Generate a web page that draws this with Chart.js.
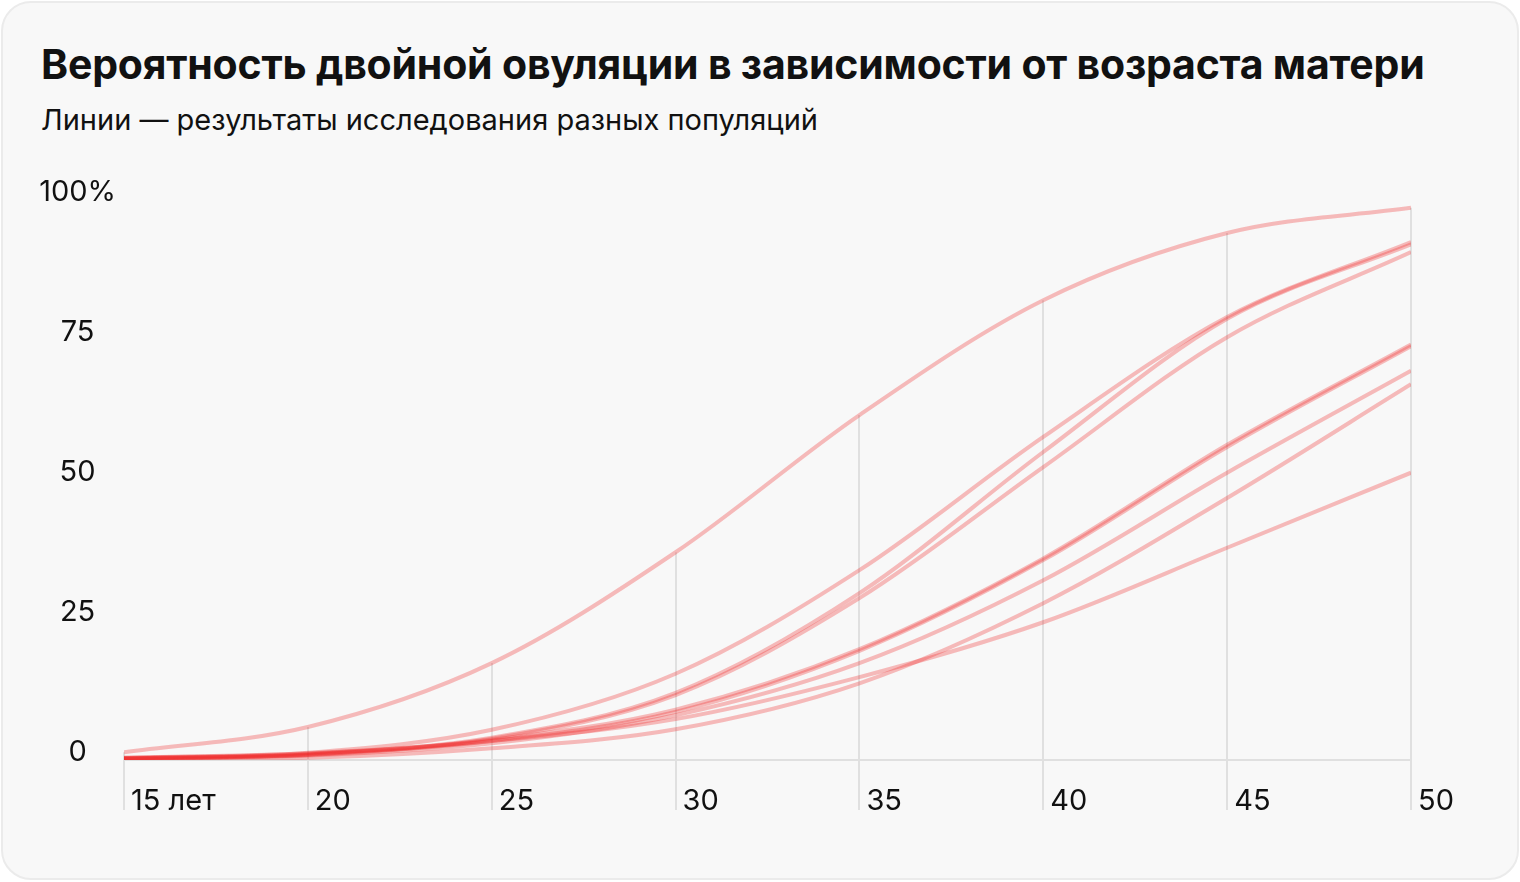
<!DOCTYPE html>
<html lang="ru">
<head>
<meta charset="utf-8">
<title>Вероятность двойной овуляции</title>
<script src="https://cdn.jsdelivr.net/npm/chart.js@4/dist/chart.umd.min.js"></script>
<style>
  html, body { margin: 0; padding: 0; background: #fff; }
  body { width: 1520px; height: 882px; position: relative; overflow: hidden; font-family: "Inter", "Roboto", sans-serif; }
  .card {
    position: absolute; left: 1px; top: 1px; width: 1518px; height: 879px;
    box-sizing: border-box; border: 2px solid #ebebeb; border-radius: 30px; background: #f8f8f8;
  }
  h1 {
    position: absolute; left: 41px; top: 39px; margin: 0;
    font-size: 41px; font-weight: 700; color: #111; white-space: nowrap; letter-spacing: -0.2px;
  }
  .sub {
    position: absolute; left: 41px; top: 102px; margin: 0;
    font-size: 29px; font-weight: 400; color: #111; white-space: nowrap;
  }
  #chart-wrap { position: absolute; left: 0; top: 0; width: 1520px; height: 882px; }
</style>
</head>
<body>
<div class="card"></div>
<h1>Вероятность двойной овуляции в зависимости от возраста матери</h1>
<p class="sub">Линии — результаты исследования разных популяций</p>
<div id="chart-wrap"><canvas id="chart"></canvas></div>
<script>
// ages (x)
const ages = [15, 20, 25, 30, 35, 40, 45, 50];
// one array per population, % probability
const popA = [1.4, 5.9, 17.3, 37.1, 61.6, 82.1, 94.1, 98.6];
const popB = [0.4, 1.3, 5.4, 15.4, 33.9, 57.7, 79.1, 92.5];
const popC = [0.3, 1.1, 4.0, 12.0, 29.8, 55.0, 78.8, 92.1];
const popD = [0.3, 1.0, 3.8, 11.6, 28.9, 52.3, 75.5, 90.7];
const popE = [0.2, 0.9, 3.4, 8.6, 19.5, 35.7, 55.9, 73.9];
const popF = [0.3, 1.0, 3.6, 9.0, 19.8, 36.0, 56.3, 74.2];
const popG = [0.2, 0.8, 3.0, 8.0, 17.3, 32.1, 51.3, 69.5];
const popH = [0.1, 0.4, 2.1, 5.5, 13.7, 28.0, 46.8, 67.1];
const popI = [0.4, 1.2, 3.4, 7.3, 14.8, 24.6, 37.9, 51.3];
const series = [popA, popB, popC, popD, popE, popF, popG, popH, popI];
// tick labels
const xTickLabels = { 15: "15 лет" };
const yTickLabels = { 100: "100%" };

const lineColor = "rgba(240, 40, 40, 0.3)";
const gridColor = "#e0e0e0";

//build datasets
const datasets = series.map((s, i) => ({
  label: "pop" + (i + 1),
  data: ages.map((a, j) => ({ x: a, y: s[j] })),
  borderColor: lineColor,
  borderWidth: 4,
  pointRadius: 0,
  fill: false,
  cubicInterpolationMode: "monotone",
}));

//drop lines from the top curve to below the axis + zero line
const dropLines = {
  id: "dropLines",
  beforeDatasetsDraw(chart) {
    const { ctx, scales: { x, y } } = chart;
    const zero = y.getPixelForValue(0);
    ctx.save();
    ctx.strokeStyle = gridColor;
    ctx.lineWidth = 2;
    ctx.beginPath();
    ctx.moveTo(x.getPixelForValue(ages[0]), zero);
    ctx.lineTo(x.getPixelForValue(ages[ages.length - 1]), zero);
    ctx.stroke();
    ages.forEach((a, i) => {
      const px = Math.round(x.getPixelForValue(a));
      ctx.beginPath();
      ctx.moveTo(px, y.getPixelForValue(popA[i]));
      ctx.lineTo(px, zero + 50);
      ctx.stroke();
    });
    ctx.restore();
  },
};

const chart = new Chart(document.getElementById("chart"), {
  type: "line",
  data: { datasets },
  plugins: [dropLines],
  options: {
    responsive: true,
    maintainAspectRatio: false,
    animation: false,
    layout: { padding: { left: 0, right: 109, top: 200, bottom: 50 } },
    plugins: { legend: { display: false }, tooltip: { enabled: false } },
    scales: {
      x: {
        type: "linear",
        min: 15,
        max: 50,
        afterFit: (s) => { s.height = 72; },
        grid: { display: false, drawTicks: false },
        border: { display: false },
        ticks: {
          stepSize: 5,
          align: "start",
          labelOffset: 7,
          padding: 24,
          color: "#111",
          font: { family: "Inter", size: 29 },
          callback: (v) => xTickLabels[v] || String(v),
        },
      },
      y: {
        min: 0,
        max: 100,
        afterFit: (s) => { s.width = 124; },
        grid: { display: false, drawTicks: false },
        border: { display: false },
        ticks: {
          stepSize: 25,
          crossAlign: "center",
          padding: 8,
          labelOffset: -8,
          color: "#111",
          font: { family: "Inter", size: 29 },
          callback: (v) => yTickLabels[v] || String(v),
        },
      },
    },
  },
});
</script>
</body>
</html>
